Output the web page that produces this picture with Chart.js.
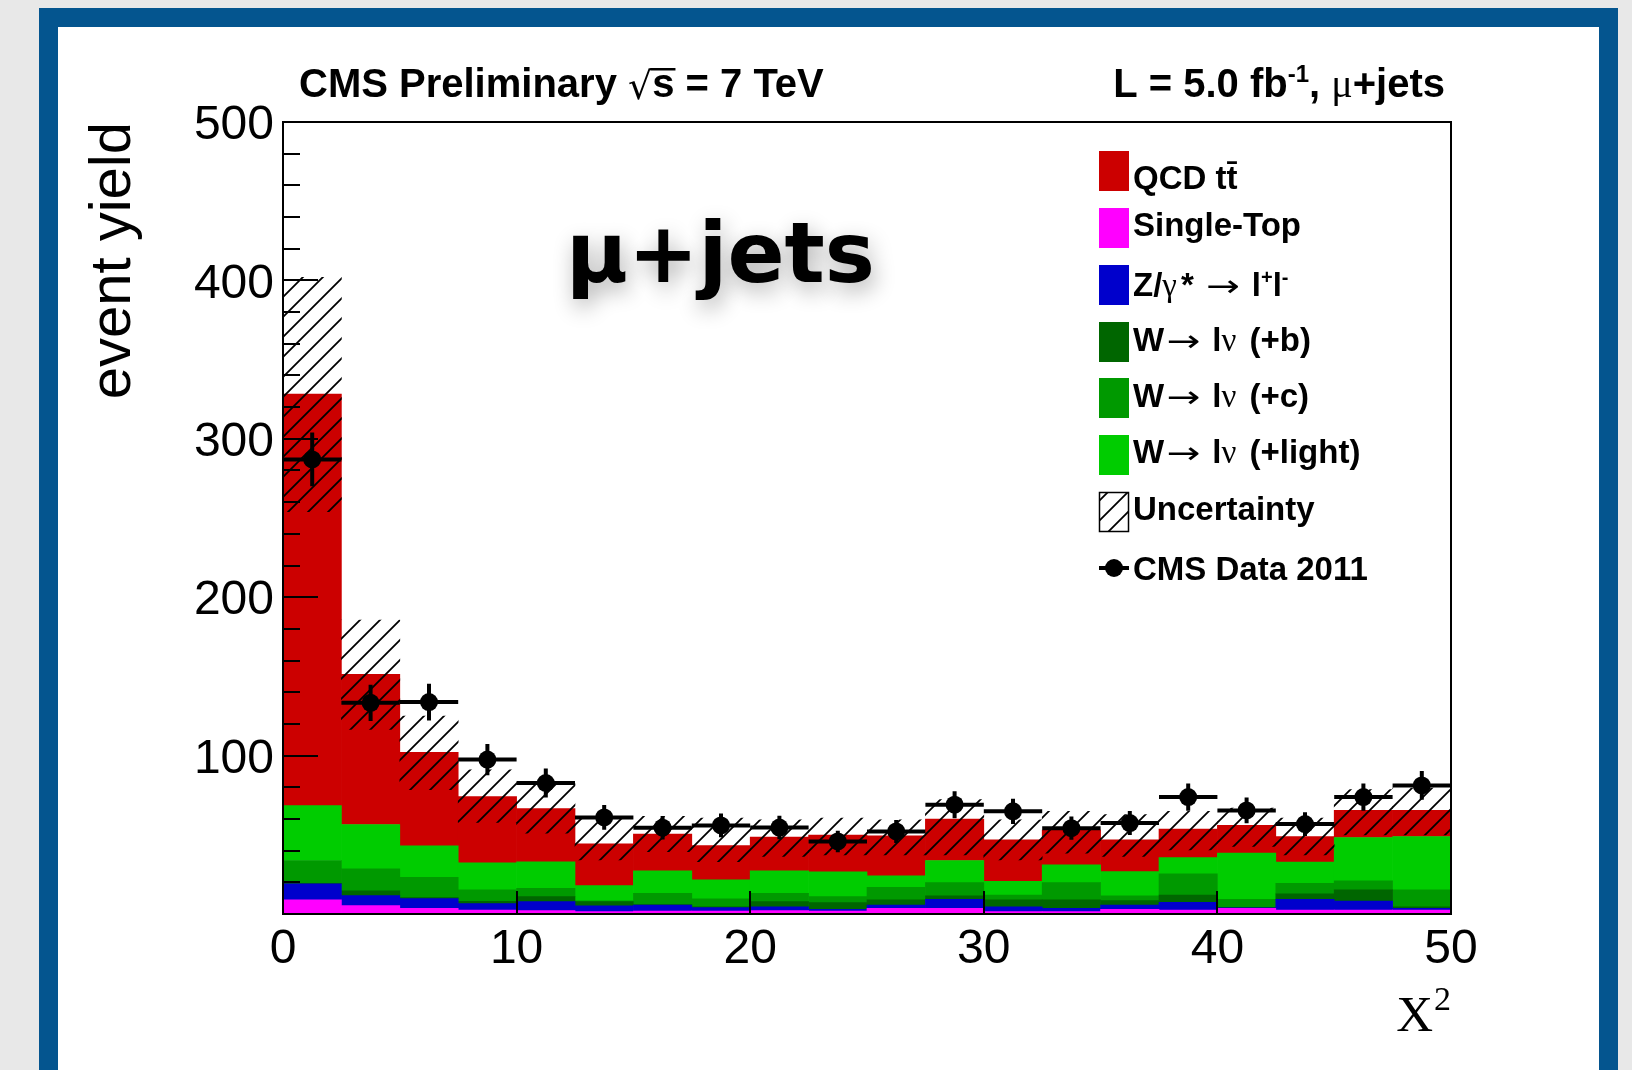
<!DOCTYPE html>
<html>
<head>
<meta charset="utf-8">
<script src="https://cdn.jsdelivr.net/npm/chart.js@4.4.1/dist/chart.umd.min.js"></script>
<style>
  html, body { margin: 0; padding: 0; background: #e8e8e8; width: 1632px; height: 1070px; overflow: hidden; }
  #panel { position: absolute; left: 39px; top: 8px; width: 1579px; height: 1090px; box-sizing: border-box;
           border: 19px solid #04558f; background: #ffffff; }
  #plot { position: absolute; left: 0; top: 0; }
</style>
</head>
<body>
<div id="panel"></div>
<canvas id="plot" width="1632" height="1070"></canvas>
<script>
// chi-square bins (centres, width 2.5)
const binCenters = [1.25, 3.75, 6.25, 8.75, 11.25, 13.75, 16.25, 18.75, 21.25, 23.75,
                    26.25, 28.75, 31.25, 33.75, 36.25, 38.75, 41.25, 43.75, 46.25, 48.75];
const binHalfWidth = 1.25;

// stacked simulation, bottom to top
const singleTop  = [8.9, 5.3, 3.6, 2.5, 2.1, 1.5, 1.9, 1.9, 2.1, 1.9, 3.6, 3.6, 1.5, 1.5, 3.0, 2.5, 3.6, 2.5, 2.5, 2.5];
const zToLL      = [10.1, 6.3, 6.1, 4.0, 5.7, 3.6, 3.8, 2.1, 2.5, 1.1, 2.1, 5.7, 3.1, 2.1, 2.7, 4.9, 0.3, 6.8, 5.7, 1.1];
const wPlusB     = [0.3, 3.0, 0.6, 1.5, 3.2, 2.7, 0.2, 0.6, 3.2, 4.2, 3.2, 2.1, 4.3, 5.3, 2.7, 4.6, 0.3, 3.4, 7.0, 1.0];
const wPlusC     = [14.5, 13.9, 12.9, 7.2, 5.2, 0.5, 7.2, 4.9, 5.3, 3.8, 8.0, 8.4, 3.1, 10.9, 3.0, 13.3, 5.1, 6.7, 5.7, 10.6];
const wPlusLight = [34.6, 28.0, 19.8, 17.1, 16.7, 9.6, 14.1, 12.0, 14.1, 15.6, 7.2, 14.0, 8.7, 11.2, 15.4, 10.3, 29.1, 13.3, 27.4, 33.7];
const qcdTTbar   = [259.9, 94.8, 59.1, 41.8, 33.6, 26.4, 23.3, 21.7, 21.3, 23.2, 25.3, 26.1, 26.1, 22.0, 20.0, 18.0, 17.5, 16.2, 17.1, 16.5];

// total-prediction uncertainty band
const uncLow  = [254, 116.5, 78.5, 57.8, 51, 34.2, 39.4, 33, 36.3, 37.3, 37.3, 37.3, 34.2, 38.4, 36.3, 40.5, 42.6, 37.3, 50, 50];
const uncHigh = [402, 185.6, 124.9, 91, 82.3, 61.2, 61.6, 60.6, 59.5, 60.6, 59.5, 72.2, 59.5, 64.8, 62.7, 64.8, 66.9, 60.6, 78.5, 79.5];

// CMS data 2011 with statistical errors
const dataYield = [287, 133.3, 133.8, 97.5, 82.7, 61, 54.5, 55.9, 54.6, 45.8, 52.1, 69, 64.8, 54.2, 57.4, 73.8, 65.4, 56.8, 73.8, 81.2];
const dataErr   = [17, 11.5, 11.6, 9.9, 9.1, 7.8, 7.4, 7.5, 7.4, 6.8, 7.2, 8.5, 8.0, 7.4, 7.6, 8.6, 8.1, 7.5, 8.6, 9.0];

const yTicksMajor = 100, yTicksMinor = 20, xTickStep = 10;

const SANS = '"Liberation Sans", Arial, Helvetica, sans-serif';
const SERIF = '"Liberation Serif", "Times New Roman", serif';
const SYM = '"DejaVu Sans", sans-serif';

// diagonal hatch used for the uncertainty band
function makeHatch(ctx) {
  const c = document.createElement('canvas');
  c.width = 20; c.height = 20;
  const p = c.getContext('2d');
  p.strokeStyle = '#000';
  p.lineWidth = 1.8;
  p.beginPath();
  p.moveTo(-5, 25); p.lineTo(25, -5);
  p.moveTo(-5, 5); p.lineTo(5, -5);
  p.moveTo(15, 25); p.lineTo(25, 15);
  p.stroke();
  return ctx.createPattern(c, 'repeat');
}

const canvas = document.getElementById('plot');
const ctx = canvas.getContext('2d');
const hatch = makeHatch(ctx);

const pts = arr => arr.map((v, i) => ({ x: binCenters[i], y: v }));

// draw a sequence of differently styled text pieces on one baseline
// (dx: extra gap before a piece, dy: vertical shift, sx: horizontal stretch)
function drawRuns(c, x, y, runs, measureOnly) {
  let cx = x;
  for (const r of runs) {
    c.font = r.f;
    cx += r.dx || 0;
    const w = c.measureText(r.t).width * (r.sx || 1);
    if (!measureOnly) {
      c.save();
      c.translate(cx, y + (r.dy || 0));
      c.scale(r.sx || 1, 1);
      c.fillText(r.t, 0, 0);
      c.restore();
    }
    cx += w;
  }
  return cx - x;
}

const decorPlugin = {
  id: 'decor',
  afterDatasetsDraw(chart) {
    const c = chart.ctx;
    const xs = chart.scales.x, ys = chart.scales.y, y2 = chart.scales.y2;
    const a = chart.chartArea;
    c.save();
    // data error bars
    c.strokeStyle = '#000';
    c.lineWidth = 4;
    c.lineCap = 'butt';
    for (let i = 0; i < dataYield.length; i++) {
      const px = xs.getPixelForValue(binCenters[i]);
      const py = y2.getPixelForValue(dataYield[i]);
      c.beginPath();
      c.moveTo(xs.getPixelForValue(binCenters[i] - binHalfWidth), py);
      c.lineTo(xs.getPixelForValue(binCenters[i] + binHalfWidth), py);
      c.moveTo(px, y2.getPixelForValue(dataYield[i] - dataErr[i]));
      c.lineTo(px, y2.getPixelForValue(dataYield[i] + dataErr[i]));
      c.stroke();
    }
    // inward tick marks
    c.lineWidth = 2;
    c.beginPath();
    for (let v = ys.min; v <= ys.max; v += yTicksMinor) {
      const py = Math.round(ys.getPixelForValue(v));
      const len = (v % yTicksMajor === 0) ? 35 : 17;
      c.moveTo(a.left, py); c.lineTo(a.left + len, py);
    }
    for (let v = xs.min + xTickStep; v < xs.max; v += xTickStep) {
      const px = Math.round(xs.getPixelForValue(v));
      c.moveTo(px, a.bottom); c.lineTo(px, a.bottom - 23);
    }
    c.stroke();
    // frame
    c.strokeRect(a.left, a.top, a.right - a.left, a.bottom - a.top);
    c.restore();
  },
  afterDraw(chart) {
    const c = chart.ctx;
    const a = chart.chartArea;
    c.save();
    c.fillStyle = '#000';
    c.textBaseline = 'alphabetic';
    c.textAlign = 'left';

    // x-axis title: chi squared, superscript drawn separately
    c.font = '51px ' + SERIF;
    const xw = c.measureText('X').width;
    c.font = '34px ' + SERIF;
    const tw = c.measureText('2').width;
    const xStart = a.right - xw - tw - 1;
    c.font = '51px ' + SERIF;
    c.fillText('X', xStart, 1031);
    c.font = '34px ' + SERIF;
    c.fillText('2', xStart + xw + 1, 1010);

    // header, left
    const T = 'bold 40px ' + SANS;
    let x = 299, base = 97;
    c.font = T;
    c.fillText('CMS Preliminary ', x, base);
    x += c.measureText('CMS Preliminary ').width;
    c.font = '38px ' + SYM;
    c.fillText('√', x, base + 2);
    const rw = c.measureText('√').width;
    const rootTop = base + 2 - c.measureText('√').actualBoundingBoxAscent;
    x += rw;
    c.font = T;
    const sw = c.measureText('s').width;
    c.fillText('s', x, base);
    c.fillRect(x - 2, rootTop, sw + 3, 2.5);
    x += sw;
    c.fillText(' = 7 TeV', x, base);

    // header, right
    const rightRuns = [
      { f: T, t: 'L = 5.0 fb' },
      { f: 'bold 24px ' + SANS, t: '-1', dy: -15 },
      { f: T, t: ', ' },
      { f: '40px ' + SERIF, t: 'μ' },
      { f: T, t: '+jets' }
    ];
    const rwTot = drawRuns(c, 0, 0, rightRuns, true);
    drawRuns(c, 1445 - rwTot, base, rightRuns);

    // channel label with soft shadow
    c.save();
    c.font = 'bold 84px ' + SYM;
    const lab = 'μ+jets';
    const m = c.measureText(lab);
    const gw = m.actualBoundingBoxLeft + m.actualBoundingBoxRight;
    const sx = 299 / gw;
    c.translate(573, 282);
    c.scale(sx, 1);
    c.shadowColor = 'rgba(0,0,0,0.32)';
    c.shadowBlur = 22;
    c.shadowOffsetX = 3;
    c.shadowOffsetY = 8;
    c.fillText(lab, m.actualBoundingBoxLeft, 0);
    c.restore();

    // legend
    const B = 'bold 33px ' + SANS;
    const S = '33px ' + SERIF;
    const AR = '30px ' + SYM;
    const SUP = 'bold 20px ' + SANS;
    const arrowRuns = tag => [
      { f: B, t: 'W' }, { f: AR, t: '→', dx: 2, sx: 1.35 }, { f: B, t: ' l', dx: 3 }, { f: S, t: 'ν' },
      { f: B, t: ' (' + tag + ')', dx: 4 }
    ];
    const rows = [
      { kind: 'fill', color: '#cc0000', top: 151, mid: 177, runs: [{ f: B, t: 'QCD tt̄' }] },
      { kind: 'fill', color: '#ff00ff', top: 208, mid: 224.5, runs: [{ f: B, t: 'Single-Top' }] },
      { kind: 'fill', color: '#0000cc', top: 265, mid: 284.5, runs: [
          { f: B, t: 'Z/' }, { f: S, t: 'γ' }, { f: B, t: '*', dx: 4 }, { f: AR, t: '→', dx: 12, sx: 1.35 },
          { f: B, t: ' l', dx: 3 }, { f: SUP, t: '+', dy: -12 }, { f: B, t: 'l' }, { f: SUP, t: '-', dy: -12 } ] },
      { kind: 'fill', color: '#006600', top: 322, mid: 339, runs: arrowRuns('+b') },
      { kind: 'fill', color: '#009900', top: 378, mid: 395, runs: arrowRuns('+c') },
      { kind: 'fill', color: '#00cc00', top: 435, mid: 451, runs: arrowRuns('+light') },
      { kind: 'hatch', top: 492, mid: 508, runs: [{ f: B, t: 'Uncertainty' }] },
      { kind: 'marker', top: 548, mid: 568.5, runs: [{ f: B, t: 'CMS Data 2011' }] }
    ];
    for (const r of rows) {
      if (r.kind === 'fill') {
        c.fillStyle = r.color;
        c.fillRect(1099, r.top, 30, 40);
      } else if (r.kind === 'hatch') {
        c.fillStyle = '#fff';
        c.fillRect(1099, r.top, 30, 40);
        c.fillStyle = hatch;
        c.fillRect(1099, r.top, 30, 40);
        c.strokeStyle = '#000';
        c.lineWidth = 1.5;
        c.strokeRect(1099.5, r.top + 0.5, 29, 39);
      } else {
        c.strokeStyle = '#000';
        c.lineWidth = 4;
        c.beginPath();
        c.moveTo(1099, 568); c.lineTo(1129, 568);
        c.stroke();
        c.fillStyle = '#000';
        c.beginPath();
        c.arc(1114, 568, 9, 0, Math.PI * 2);
        c.fill();
      }
      c.fillStyle = '#000';
      drawRuns(c, 1133, r.mid + 11.8, r.runs);
    }
    c.restore();
  }
};

new Chart(ctx, {
  type: 'bar',
  data: {
    datasets: [
      { label: 'Single-Top', data: pts(singleTop), backgroundColor: '#ff00ff', order: 10 },
      { label: 'Z/γ* → l+l-', data: pts(zToLL), backgroundColor: '#0000cc', order: 10 },
      { label: 'W→ lν (+b)', data: pts(wPlusB), backgroundColor: '#006600', order: 10 },
      { label: 'W→ lν (+c)', data: pts(wPlusC), backgroundColor: '#009900', order: 10 },
      { label: 'W→ lν (+light)', data: pts(wPlusLight), backgroundColor: '#00cc00', order: 10 },
      { label: 'QCD tt̄', data: pts(qcdTTbar), backgroundColor: '#cc0000', order: 10 },
      { label: 'Uncertainty', yAxisID: 'y2', order: 5, backgroundColor: hatch,
        data: uncLow.map((lo, i) => ({ x: binCenters[i], y: [lo, uncHigh[i]] })) },
      { type: 'scatter', label: 'CMS Data 2011', yAxisID: 'y2', order: 1, showLine: false,
        data: pts(dataYield), pointRadius: 9, pointBorderWidth: 0, backgroundColor: '#000', borderColor: '#000' }
    ]
  },
  options: {
    responsive: false,
    animation: false,
    devicePixelRatio: 1,
    layout: { padding: { left: 0, top: 122, right: 181, bottom: 0 } },
    datasets: { bar: { barPercentage: 1, categoryPercentage: 1, borderWidth: 0 } },
    plugins: { legend: { display: false }, tooltip: { enabled: false } },
    scales: {
      x: {
        type: 'linear', min: 0, max: 50, offset: false, stacked: true,
        grid: { display: false, drawTicks: false }, border: { display: false },
        ticks: { stepSize: xTickStep, color: '#000', font: { family: SANS, size: 48 }, padding: 7, maxRotation: 0, autoSkip: false },
        afterFit: s => { s.height = 156; }
      },
      y: {
        type: 'linear', min: 0, max: 500, stacked: true,
        grid: { display: false, drawTicks: false }, border: { display: false },
        ticks: { stepSize: yTicksMajor, color: '#000', font: { family: SANS, size: 48 }, padding: 9, labelOffset: 4,
                 callback: v => (v === 0 ? '' : String(v)) },
        title: { display: true, text: 'event yield', align: 'end', color: '#000',
                 font: { family: SANS, size: 58 }, padding: { top: 79, bottom: 0 } },
        afterFit: s => { s.width = 283; }
      },
      y2: { type: 'linear', min: 0, max: 500, display: false, stacked: false }
    }
  },
  plugins: [decorPlugin]
});
</script>
</body>
</html>
